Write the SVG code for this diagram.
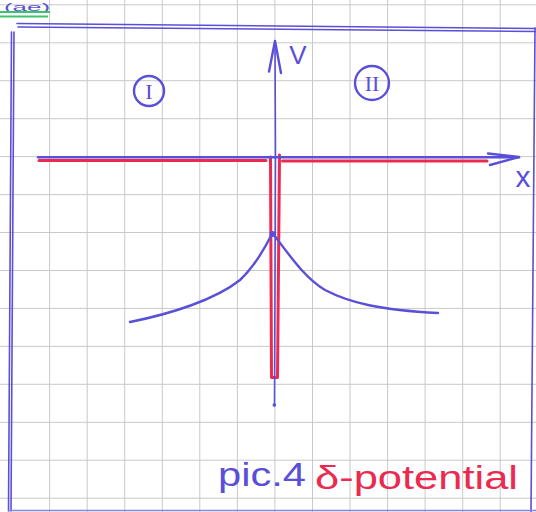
<svg xmlns="http://www.w3.org/2000/svg" width="536" height="512" viewBox="0 0 536 512">
<defs>
<style>
.grid{stroke:#c9c9c9;stroke-width:1;fill:none}
.pen{stroke:#5a4fd8;stroke-width:2.4;fill:none;stroke-linecap:round;stroke-linejoin:round}
.thin{stroke:#5a4fd8;stroke-width:1.6;fill:none;stroke-linecap:round}
.red{stroke:#ec2a50;stroke-width:3;fill:none;stroke-linecap:round;stroke-linejoin:round}
.bt{fill:#5a4fd8;font-family:"Liberation Sans",Arial,sans-serif}
.rt{fill:#ec2a50;font-family:"Liberation Sans",Arial,sans-serif}
.num{fill:#5a4fd8;font-family:"Liberation Serif","Times New Roman",serif;text-anchor:middle}
</style>
</defs>
<rect width="536" height="512" fill="#ffffff"/>
<g id="grid" class="grid">
<path d="M49.6,0V512M87.2,0V512M124.7,0V512M162.3,0V512M199.8,0V512M237.4,0V512M274.9,0V512M312.5,0V512M350,0V512M387.6,0V512M425.1,0V512M462.7,0V512M500.2,0V512"/>
<path d="M0,4.8H536M0,42.8H536M0,80.7H536M0,118.7H536M0,156.6H536M0,194.6H536M0,232.5H536M0,270.5H536M0,308.4H536M0,346.4H536M0,384.3H536M0,422.3H536M0,460.2H536M0,498.2H536"/>
</g>
<g id="header">
<text class="bt" x="4" y="10.5" font-size="11" textLength="46" lengthAdjust="spacingAndGlyphs">(ae)</text>
<path d="M0,12H50M0,16.5H48" stroke="#3cc46c" stroke-width="1.8" fill="none"/>
</g>
<g id="border">
<path class="thin" d="M17,23.5L536,28.5M18,27L536,31.5"/>
<path class="thin" d="M11.5,32L8.5,511M14,32L11,511"/>
<path class="thin" d="M535,28L531,512"/>
<path d="M8,510.5H536" stroke="#8a83e0" stroke-width="1.4" fill="none"/>
</g>
<g id="potential">
<path class="red" d="M39,160.5H266M270.5,157L271.5,377.5L277.5,377.5L279.5,155M282.5,161H487"/>
</g>
<g id="axes">
<path class="pen" d="M38,157.3H519"/>
<path class="pen" d="M488,153.5L519,157L490,165"/>
<path class="thin" d="M275,41L275.5,160L274.5,406"/>
<path class="pen" d="M269,71.5L275,41L281,73"/>
<circle cx="274.3" cy="405" r="1.8" fill="#5a4fd8"/>
<text class="bt" x="298" y="64" font-size="26" text-anchor="middle">V</text>
<text class="bt" x="523" y="187" font-size="30" text-anchor="middle">x</text>
</g>
<g id="wavefunction">
<path class="pen" d="M130,322C170,314 215,300 240,280C255,266 265,248 272.5,233C290,256 305,278 325,290C350,303 380,310 438,313"/>
<circle cx="272.5" cy="234" r="3" fill="#5a4fd8"/>
</g>
<g id="region-I">
<circle class="pen" cx="149" cy="91" r="15" stroke-width="2"/>
<text class="num" x="149" y="99" font-size="22">I</text>
</g>
<g id="region-II">
<circle class="pen" cx="372" cy="83" r="17" stroke-width="2"/>
<text class="num" x="372" y="91" font-size="22">II</text>
</g>
<g id="caption">
<text class="bt" x="218" y="486" font-size="34" textLength="88" lengthAdjust="spacingAndGlyphs">pic.4</text>
<text class="rt" x="315" y="489" font-size="34" textLength="203" lengthAdjust="spacingAndGlyphs">δ-potential</text>
</g>
</svg>
